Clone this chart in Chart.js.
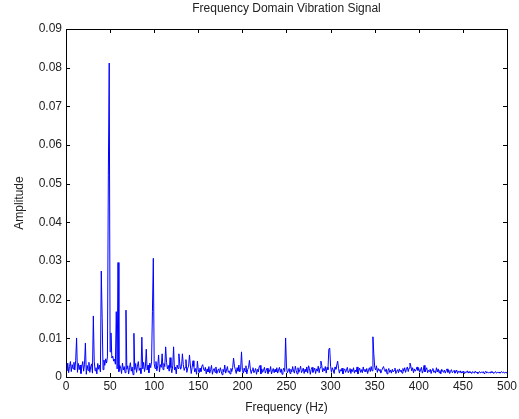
<!DOCTYPE html>
<html lang="en">
<head>
  <meta charset="UTF-8" />
  <title>Frequency Domain Vibration Signal</title>
  <script src="https://cdn.jsdelivr.net/npm/chart.js"></script>
  <style>
    body {
      margin: 0;
      background: #ffffff;
    }
    #spectrum {
      display: block;
    }
  </style>
</head>
<body>
  <canvas id="spectrum" width="519" height="419"></canvas>

  <script>
// noise floor, one value per Hz from 0 to 500 Hz
const noiseFloor = [
  0.0030,0.0016,0.0036,0.0011,0.0027,0.0040,0.0014,0.0032,0.0021,0.0038,
  0.0018,0.0043,0.0025,0.0012,0.0035,0.0019,0.0031,0.0009,0.0028,0.0040,
  0.0015,0.0033,0.0022,0.0007,0.0030,0.0017,0.0038,0.0012,0.0026,0.0034,
  0.0010,0.0029,0.0041,0.0016,0.0024,0.0008,0.0035,0.0020,0.0031,0.0013,
  0.0027,0.0038,0.0019,0.0044,0.0030,0.0047,0.0036,0.0052,0.0045,0.0060,
  0.0065,0.0058,0.0049,0.0054,0.0041,0.0046,0.0033,0.0039,0.0021,0.0034,
  0.0014,0.0030,0.0023,0.0009,0.0036,0.0018,0.0027,0.0011,0.0032,0.0020,
  0.0029,0.0008,0.0024,0.0037,0.0015,0.0026,0.0006,0.0031,0.0019,0.0035,
  0.0012,0.0028,0.0040,0.0017,0.0023,0.0009,0.0033,0.0021,0.0038,0.0014,
  0.0026,0.0042,0.0018,0.0031,0.0011,0.0036,0.0024,0.0039,0.0045,0.0030,
  0.0034,0.0022,0.0040,0.0016,0.0029,0.0037,0.0013,0.0032,0.0025,0.0041,
  0.0019,0.0035,0.0027,0.0012,0.0038,0.0021,0.0030,0.0015,0.0033,0.0024,
  0.0011,0.0029,0.0036,0.0018,0.0026,0.0008,0.0031,0.0022,0.0014,0.0034,
  0.0020,0.0027,0.0010,0.0032,0.0017,0.0025,0.0030,0.0012,0.0023,0.0028,
  0.0015,0.0031,0.0009,0.0024,0.0019,0.0027,0.0013,0.0022,0.0007,0.0026,
  0.0018,0.0011,0.0023,0.0014,0.0028,0.0009,0.0020,0.0016,0.0025,0.0008,
  0.0021,0.0013,0.0027,0.0010,0.0019,0.0024,0.0007,0.0018,0.0022,0.0012,
  0.0026,0.0009,0.0017,0.0021,0.0011,0.0024,0.0015,0.0006,0.0020,0.0013,
  0.0023,0.0010,0.0018,0.0027,0.0012,0.0016,0.0008,0.0022,0.0014,0.0025,
  0.0011,0.0028,0.0019,0.0009,0.0024,0.0015,0.0031,0.0013,0.0020,0.0026,
  0.0017,0.0010,0.0023,0.0014,0.0029,0.0008,0.0019,0.0025,0.0012,0.0021,
  0.0009,0.0018,0.0024,0.0011,0.0016,0.0022,0.0007,0.0020,0.0013,0.0026,
  0.0015,0.0008,0.0021,0.0012,0.0018,0.0025,0.0010,0.0017,0.0023,0.0009,
  0.0019,0.0014,0.0027,0.0008,0.0016,0.0022,0.0011,0.0020,0.0013,0.0024,
  0.0010,0.0018,0.0025,0.0012,0.0021,0.0007,0.0017,0.0023,0.0014,0.0019,
  0.0026,0.0011,0.0016,0.0022,0.0009,0.0020,0.0013,0.0027,0.0015,0.0010,
  0.0021,0.0017,0.0008,0.0024,0.0012,0.0019,0.0028,0.0011,0.0016,0.0023,
  0.0009,0.0020,0.0014,0.0026,0.0010,0.0018,0.0022,0.0007,0.0019,0.0025,
  0.0012,0.0017,0.0023,0.0009,0.0021,0.0015,0.0028,0.0011,0.0024,0.0018,
  0.0030,0.0013,0.0022,0.0016,0.0027,0.0010,0.0025,0.0019,0.0032,0.0015,
  0.0028,0.0012,0.0024,0.0018,0.0009,0.0026,0.0020,0.0031,0.0013,0.0022,
  0.0010,0.0019,0.0015,0.0023,0.0008,0.0017,0.0021,0.0012,0.0018,0.0025,
  0.0011,0.0016,0.0022,0.0009,0.0020,0.0014,0.0024,0.0010,0.0018,0.0013,
  0.0021,0.0008,0.0017,0.0023,0.0012,0.0019,0.0011,0.0026,0.0015,0.0020,
  0.0013,0.0022,0.0009,0.0018,0.0024,0.0014,0.0027,0.0016,0.0030,0.0021,
  0.0025,0.0018,0.0029,0.0012,0.0022,0.0016,0.0020,0.0010,0.0017,0.0023,
  0.0011,0.0019,0.0014,0.0021,0.0008,0.0016,0.0022,0.0012,0.0018,0.0010,
  0.0020,0.0013,0.0017,0.0023,0.0009,0.0015,0.0019,0.0011,0.0021,0.0014,
  0.0018,0.0010,0.0022,0.0015,0.0024,0.0012,0.0020,0.0026,0.0014,0.0023,
  0.0019,0.0028,0.0016,0.0024,0.0011,0.0021,0.0015,0.0019,0.0009,0.0017,
  0.0022,0.0012,0.0018,0.0025,0.0010,0.0016,0.0021,0.0013,0.0019,0.0024,
  0.0011,0.0017,0.0014,0.0020,0.0009,0.0018,0.0022,0.0012,0.0016,0.0010,
  0.0019,0.0013,0.0021,0.0011,0.0017,0.0008,0.0020,0.0015,0.0012,0.0018,
  0.0010,0.0016,0.0021,0.0012,0.0018,0.0009,0.0015,0.0019,0.0011,0.0014,
  0.0017,0.0010,0.0013,0.0018,0.0009,0.0015,0.0012,0.0016,0.0010,0.0014,
  0.0011,0.0015,0.0009,0.0013,0.0012,0.0016,0.0010,0.0014,0.0011,0.0013,
  0.0009,0.0014,0.0012,0.0010,0.0015,0.0011,0.0013,0.0009,0.0012,0.0014,
  0.0010,0.0013,0.0011,0.0014,0.0009,0.0012,0.0015,0.0010,0.0013,0.0011,
  0.0012,0.0010,0.0014,0.0011,0.0013,0.0009,0.0012,0.0014,0.0010,0.0012,
  0.0011,0.0013,0.0010,0.0012,0.0014,0.0011,0.0013,0.0010,0.0012,0.0011,
  0.0013
];

// spectral peaks (Hz) and their amplitudes
const peakFreqs = [12, 22, 31, 40, 41, 48, 49, 51, 57, 59, 68, 77, 86, 91, 98, 99,
  105, 109, 113, 118, 122, 128, 132, 136, 140, 144, 149, 155, 165, 180, 190, 199,
  208, 220, 249, 260, 275, 289, 298, 299, 308, 330, 348, 349, 360, 390, 398, 406, 420];
const peakAmps = [0.0101, 0.0088, 0.0158, 0.0274, 0.0153, 0.0520, 0.0812, 0.0114,
  0.0169, 0.0296, 0.0173, 0.0113, 0.0103, 0.0072, 0.0170, 0.0307,
  0.0057, 0.0060, 0.0078, 0.0050, 0.0078, 0.0060, 0.0060, 0.0045, 0.0057, 0.0042,
  0.0041, 0.0032, 0.0030, 0.0031, 0.0049, 0.0065, 0.0043, 0.0030, 0.0101, 0.0028,
  0.0029, 0.0041, 0.0072, 0.0075, 0.0041, 0.0026, 0.0104, 0.0060, 0.0027, 0.0036,
  0.0026, 0.0030, 0.0024];

const xTicks = [0, 50, 100, 150, 200, 250, 300, 350, 400, 450, 500];
const yTicks = [0, 0.01, 0.02, 0.03, 0.04, 0.05, 0.06, 0.07, 0.08, 0.09];

const points = noiseFloor.map((a, i) => ({ x: i, y: a }));
peakFreqs.forEach((f, k) => { points[f].y = peakAmps[k]; });

const textColor = '#222222';
const fontFamily = "'Liberation Sans', Arial, sans-serif";

// matlab style box with inward ticks, title and axis labels
const matlabFrame = {
  id: 'matlabFrame',
  afterDraw(chart) {
    const { ctx, chartArea: a, scales } = chart;
    ctx.save();
    ctx.strokeStyle = '#000000';
    ctx.lineWidth = 1;
    ctx.strokeRect(Math.round(a.left) + 0.5, Math.round(a.top) + 0.5,
      Math.round(a.right - a.left), Math.round(a.bottom - a.top));
    ctx.beginPath();
    xTicks.forEach(v => {
      const px = Math.round(scales.x.getPixelForValue(v)) + 0.5;
      ctx.moveTo(px, a.bottom); ctx.lineTo(px, a.bottom - 4);
      ctx.moveTo(px, a.top); ctx.lineTo(px, a.top + 4);
    });
    yTicks.forEach(v => {
      const py = Math.round(scales.y.getPixelForValue(v)) + 0.5;
      ctx.moveTo(a.left, py); ctx.lineTo(a.left + 4, py);
      ctx.moveTo(a.right, py); ctx.lineTo(a.right - 4, py);
    });
    ctx.stroke();

    ctx.fillStyle = textColor;
    ctx.textAlign = 'center';
    ctx.textBaseline = 'middle';
    ctx.font = '12px ' + fontFamily;
    const cx = (a.left + a.right) / 2;
    ctx.fillText('Frequency Domain Vibration Signal', cx, 9);
    ctx.fillText('Frequency (Hz)', cx, 408);
    ctx.translate(20, (a.top + a.bottom) / 2);
    ctx.rotate(-Math.PI / 2);
    ctx.fillText('Amplitude', 0, 0);
    ctx.restore();
  }
};

new Chart(document.getElementById('spectrum'), {
  type: 'line',
  data: {
    datasets: [{
      data: points,
      borderColor: '#0000ff',
      borderWidth: 1,
      pointRadius: 0,
      tension: 0,
      fill: false
    }]
  },
  options: {
    responsive: false,
    animation: false,
    events: [],
    layout: { padding: { top: 29, right: 9, left: 0, bottom: 0 } },
    plugins: {
      legend: { display: false },
      tooltip: { enabled: false }
    },
    scales: {
      x: {
        type: 'linear',
        min: 0,
        max: 500,
        afterFit: s => { s.height = 42; },
        afterBuildTicks: s => { s.ticks = xTicks.map(v => ({ value: v })); },
        grid: { display: false, drawTicks: false },
        border: { display: false },
        ticks: { color: textColor, font: { size: 12, family: fontFamily }, padding: 2, maxRotation: 0 }
      },
      y: {
        min: 0,
        max: 0.09,
        afterFit: s => { s.width = 66; },
        afterBuildTicks: s => { s.ticks = yTicks.map(v => ({ value: v })); },
        grid: { display: false, drawTicks: false },
        border: { display: false },
        ticks: {
          color: textColor,
          font: { size: 12, family: fontFamily },
          padding: 4,
          callback: v => v === 0 ? '0' : v.toFixed(2)
        }
      }
    }
  },
  plugins: [matlabFrame]
});
  </script>
</body>
</html>
